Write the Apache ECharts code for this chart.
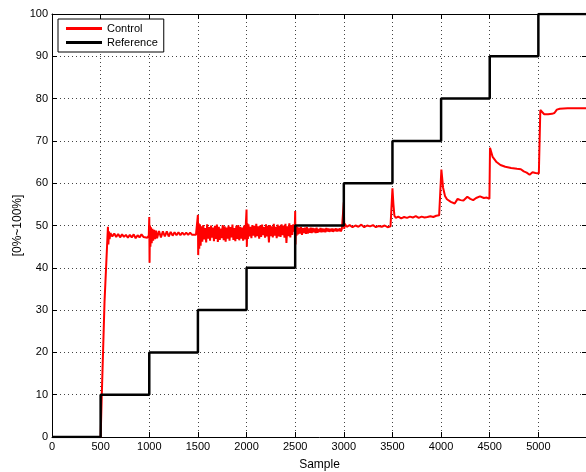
<!DOCTYPE html>
<html>
<head>
<meta charset="utf-8">
<script src="https://cdn.jsdelivr.net/npm/echarts@6/dist/echarts.min.js"></script>
<style>
  html, body { margin: 0; padding: 0; background: #fff; }
  #chart { width: 586px; height: 472px; }
</style>
</head>
<body>
<div id="chart"></div>
<script>
// reference steps (sample, percent)
const refX = [0, 500, 1000, 1500, 2000, 2500, 3000, 3500, 4000, 4500, 5000, 5500];
const refY = [0, 10, 20, 30, 40, 50, 60, 70, 80, 90, 100, 100];

// control signal: hand-read points and noisy bands (start, step, values)
const ctrlStart = [[0, 0], [500, 0], [512, 10], [540, 32], [575, 49.7], [580, 45.5], [585, 48.6], [592, 46.8], [600, 48.2]];
const band600 = { start: 620, step: 20, vals: [47.4, 48.1, 47.3, 48.0, 47.2, 47.9, 47.3, 47.8, 47.1, 47.8, 47.2, 47.9, 47.0, 47.7, 47.2, 47.9, 47.3, 47.7, 47.1] };
const spike1000 = [[995, 47.6], [1000, 52], [1003, 41.2], [1007, 50], [1012, 45], [1018, 49.6], [1025, 45.8], [1032, 49.2], [1040, 46.4], [1050, 49], [1060, 46.8], [1070, 48.8]];
const band1000 = { start: 1080, step: 20, vals: [47, 48.7, 47.2, 48.6, 47.4, 48.6, 47.4, 48.5, 47.6, 48.4, 47.7, 48.4, 47.7, 48.3, 47.8, 48.3, 47.8, 48.3, 47.8, 48.2, 47.8] };
const spike1500 = [[1495, 48], [1500, 52.5], [1503, 43], [1508, 50.5], [1514, 44.5], [1520, 50.3], [1528, 45.2]];
const band1500 = { start: 1535, step: 10, vals: [
  49.8, 46.2, 50.1, 46.7, 49.4, 46.0, 50.3, 46.9, 49.6, 46.4,
  50.0, 47.1, 49.5, 46.3, 49.9, 46.8, 50.2, 46.1, 49.7, 46.6,
  49.3, 47.0, 50.1, 46.5, 49.8, 46.2, 49.5, 46.9, 50.0, 46.4,
  49.6, 47.2, 50.2, 46.6, 49.4, 46.3, 49.9, 46.8, 50.1, 46.5,
  49.7, 46.9, 49.5, 46.4, 50.0, 46.7] };
const spike2000 = [[1995, 47], [2000, 53.8], [2003, 45], [2008, 50.5], [2014, 46.8]];
const band2000 = { start: 2020, step: 10, vals: [
  50.3, 47.4, 49.7, 47.0, 50.1, 47.6, 49.9, 47.2, 50.4, 47.5,
  49.8, 46.9, 50.0, 47.3, 50.2, 47.7, 49.6, 47.1, 50.3, 47.4,
  49.9, 46.0, 50.1, 47.5, 49.8, 47.2, 50.4, 47.6, 49.7, 47.0,
  50.2, 47.4, 49.9, 47.3, 50.3, 47.7, 50.0, 47.1, 50.4, 45.9,
  49.8, 47.5, 50.5, 47.2, 50.1, 47.8, 50.3] };
const spike2500 = [[2495, 48.5], [2500, 53.4], [2503, 45.5], [2508, 50], [2514, 47.6]];
const band2500 = { start: 2520, step: 10, vals: [
  49.7, 47.9, 49.5, 48.1, 49.6, 47.8, 49.4, 48.2, 49.5, 48.0,
  49.6, 48.1, 49.3, 48.3, 49.5, 48.2, 49.4, 48.4, 49.3, 48.2,
  49.5, 48.3, 49.2, 48.5, 49.4, 48.4, 49.3, 48.5, 49.2, 48.4,
  49.4, 48.6, 49.3, 48.5, 49.2, 48.6, 49.3, 48.5, 49.2, 48.7,
  49.3, 48.6, 49.2, 48.7, 49.3, 48.6, 49.2] };
const ctrlTail = [
  [2995, 49], [3000, 55.5], [3004, 49.2], [3010, 50.4],
  [3030, 49.7], [3060, 50.1], [3090, 49.6], [3120, 50.0], [3150, 49.7], [3180, 50.2], [3210, 49.6], [3240, 50.0],
  [3270, 49.8], [3300, 50.1], [3330, 49.6], [3360, 49.9], [3390, 49.7], [3420, 50.0], [3450, 49.6], [3480, 49.8], [3496, 49.7],
  [3500, 58.8], [3510, 55], [3520, 52.3], [3535, 51.8],
  [3560, 52.1], [3590, 51.7], [3620, 52.0], [3650, 51.8], [3680, 52.1], [3710, 51.9], [3740, 52.2], [3770, 51.8],
  [3800, 52.1], [3830, 51.9], [3860, 52.0], [3890, 52.2], [3920, 52.0], [3950, 52.3], [3980, 52.4], [3997, 52.3],
  [4003, 63.2], [4020, 59], [4040, 57], [4060, 56.2], [4100, 55.6], [4140, 55.2], [4170, 56.3], [4200, 56.0],
  [4230, 55.9], [4270, 56.8], [4300, 56.3], [4330, 56.0], [4360, 56.5], [4400, 56.9], [4440, 56.5], [4470, 56.6], [4497, 56.3],
  [4503, 68.4], [4530, 66.2], [4570, 65.0], [4610, 64.3], [4660, 63.9], [4720, 63.6], [4780, 63.4], [4820, 63.3],
  [4850, 62.8], [4880, 62.5], [4910, 62.0], [4940, 62.6], [4970, 62.4], [5005, 62.3],
  [5020, 77.3], [5035, 77.0], [5060, 76.3], [5100, 76.3], [5140, 76.4], [5165, 76.6], [5190, 77.4], [5220, 77.6],
  [5300, 77.7], [5400, 77.7], [5500, 77.7]
];

const xTicks = { min: 0, max: 5500, interval: 500 };
const yTicks = { min: 0, max: 100, interval: 10 };

function bandPoints(b) {
  return b.vals.map((v, i) => [b.start + i * b.step, v]);
}

const controlData = [].concat(
  ctrlStart, bandPoints(band600),
  spike1000, bandPoints(band1000),
  spike1500, bandPoints(band1500),
  spike2000, bandPoints(band2000),
  spike2500, bandPoints(band2500),
  ctrlTail
);
const referenceData = refX.map((x, i) => [x, refY[i]]);

const font = 'Liberation Sans, Arial, sans-serif';
const myChart = echarts.init(document.getElementById('chart'));

const gridLine = { show: true, lineStyle: { color: '#444', type: [1, 3], width: 1 } };
const frame = { show: true, onZero: false, lineStyle: { color: '#000', width: 1 } };
const tickIn = { show: true, inside: true, length: 5, lineStyle: { color: '#000' } };

const option = {
  animation: false,
  backgroundColor: '#fff',
  grid: { left: 52, top: 14, width: 535, height: 423, containLabel: false, outerBoundsMode: 'none' },
  legend: {
    data: ['Control', 'Reference'],
    orient: 'vertical',
    left: 58,
    top: 19,
    padding: [4, 6, 4, 8],
    itemGap: 3,
    itemWidth: 36,
    itemHeight: 3,
    icon: 'rect',
    borderColor: '#000',
    borderWidth: 1,
    backgroundColor: '#fff',
    textStyle: { fontFamily: font, fontSize: 11, color: '#000', padding: [0, 0, 0, 0] }
  },
  xAxis: [
    {
      type: 'value', position: 'bottom',
      min: xTicks.min, max: xTicks.max, interval: xTicks.interval,
      name: 'Sample', nameLocation: 'middle', nameGap: 22,
      nameTextStyle: { fontFamily: font, fontSize: 12, color: '#000' },
      axisLine: frame, axisTick: tickIn, splitLine: gridLine,
      axisLabel: {
        fontFamily: font, fontSize: 11, color: '#000', margin: 4,
        formatter: v => (v > 5000 ? '' : String(v))
      }
    },
    {
      type: 'value', position: 'top',
      min: xTicks.min, max: xTicks.max, interval: xTicks.interval,
      axisLine: frame, axisTick: tickIn, splitLine: { show: false }, axisLabel: { show: false }
    }
  ],
  yAxis: [
    {
      type: 'value', position: 'left',
      min: yTicks.min, max: yTicks.max, interval: yTicks.interval,
      name: '[0%~100%]', nameLocation: 'middle', nameGap: 28, nameRotate: 90,
      nameMoveOverlap: false,
      nameTextStyle: { fontFamily: font, fontSize: 12, color: '#000' },
      axisLine: frame, axisTick: tickIn, splitLine: gridLine,
      axisLabel: { fontFamily: font, fontSize: 11, color: '#000', margin: 4 }
    },
    {
      type: 'value', position: 'right',
      min: yTicks.min, max: yTicks.max, interval: yTicks.interval,
      axisLine: frame, axisTick: tickIn, splitLine: { show: false }, axisLabel: { show: false }
    }
  ],
  series: [
    {
      name: 'Control',
      type: 'line',
      data: controlData,
      showSymbol: false,
      symbol: 'none',
      clip: true,
      lineStyle: { color: '#ff0000', width: 2 },
      itemStyle: { color: '#ff0000' },
      z: 2
    },
    {
      name: 'Reference',
      type: 'line',
      data: referenceData,
      step: 'end',
      showSymbol: false,
      symbol: 'none',
      clip: true,
      lineStyle: { color: '#000', width: 2.5 },
      itemStyle: { color: '#000' },
      z: 3
    }
  ]
};

myChart.setOption(option);
</script>
</body>
</html>
